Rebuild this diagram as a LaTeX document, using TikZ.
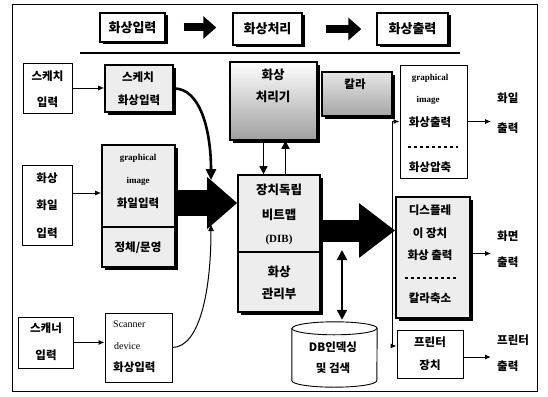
\documentclass[tikz,border=0pt]{standalone}
\usepackage{fontspec}
\setmainfont{Noto Sans CJK KR}
\newfontfamily\lat{Liberation Serif}
\usetikzlibrary{arrows.meta,shapes.geometric,shadows,calc}
\begin{document}
\begin{tikzpicture}[x=1pt,y=-1pt,
  plain/.style={draw, line width=0.9pt, fill=white, inner sep=0pt},
  texbox/.style={draw, line width=1.6pt, fill=gray!14, inner sep=0pt,
    drop shadow={shadow xshift=2.5pt,shadow yshift=-2.5pt,fill=black,opacity=1}},
  hdr/.style={draw, line width=1.4pt, fill=white, inner sep=0pt,
    drop shadow={shadow xshift=2.5pt,shadow yshift=-2.5pt,fill=black,opacity=1},
    font=\bfseries\fontsize{13}{13}\selectfont},
  kt/.style={inner sep=0pt, font=\bfseries\fontsize{11.5}{11.5}\selectfont},
  kb/.style={inner sep=0pt, font=\bfseries\fontsize{12.5}{12.5}\selectfont},
  lt/.style={inner sep=0pt, font=\lat\bfseries\fontsize{9}{9}\selectfont},
  st/.style={inner sep=0pt, anchor=west, font=\lat\fontsize{10}{10}\selectfont},
  lab/.style={inner sep=0pt, anchor=west, align=left},
  thin/.style={line width=1pt, -{Latex[length=6pt,width=5pt]}},
  hdrarrow/.style={line width=8pt, -{Triangle[length=13pt,width=22pt]}},
  div/.style={line width=1.2pt},
  cyl/.style={line width=0.9pt}
]
\useasboundingbox (0,0) rectangle (548,396);
\draw[line width=1pt] (12,5) rectangle (537,391);
\draw[line width=2.5pt] (80,53) -- (460,53);

% header
\node[hdr, minimum width=65pt, minimum height=29pt] (h1) at (132.5,27.5) {화상입력};
\node[hdr, minimum width=69pt, minimum height=32pt] (h2) at (267.5,29) {화상처리};
\node[hdr, minimum width=71pt, minimum height=32pt] (h3) at (412.5,29) {화상출력};
\draw[hdrarrow, shorten <=18pt, shorten >=16pt] (h1.east) -- (h1.east -| h2.west);
\draw[hdrarrow, shorten <=23pt, shorten >=15pt] (h2.east) -- (h3.west);

% left column
\node[plain, minimum width=49pt, minimum height=50pt] (s1) at (47.5,88) {};
\node[kt] (s1a) at (47.5,76) {스케치};
\node[kt] (s1b) at (47.5,102) {입력};
\node[texbox, minimum width=68pt, minimum height=47pt] (s2) at (139,88.5) {};
\node[kt] (s2a) at (138,77) {스케치};
\node[kt] (s2b) at (139,100) {화상입력};

\node[plain, minimum width=50pt, minimum height=80pt] (f1) at (47,205) {};
\node[kt] (f1a) at (47,178) {화상};
\node[kt] (f1b) at (47,205) {화일};
\node[kt] (f1c) at (47,233) {입력};
\node[texbox, minimum width=73pt, minimum height=122pt] (f2) at (138.5,206) {};
\draw[div] (f2.west |- 0,227) -- (f2.east |- 0,227);
\node[lt] (f2a) at (138,158) {graphical};
\node[lt] (f2b) at (138,181) {image};
\node[kt] (f2c) at (138,203) {화일입력};
\node[kt] (f2d) at (138,248) {정체/문영};

\node[plain, minimum width=55pt, minimum height=51pt] (sc1) at (45.5,342.5) {};
\node[kt] (sc1a) at (46,328) {스캐너};
\node[kt] (sc1b) at (46,355) {입력};
\node[plain, minimum width=67pt, minimum height=69pt] (sc2) at (138.5,347.5) {};
\node[st] (sc2a) at (113,324) {Scanner};
\node[st] (sc2b) at (114,346) {device};
\node[kt, anchor=west] (sc2c) at (113,367) {화상입력};

\draw[thin] (s1.east) -- (s1.east -| s2.west);
\draw[thin] ([yshift=12pt]f1.east) -- ([yshift=12pt]f1.east -| f2.west);
\draw[thin] (sc1.east) -- (sc1.east -| sc2.west);

% middle
\node[draw, line width=1.6pt, top color=white, bottom color=gray!75, inner sep=0pt,
  minimum width=87pt, minimum height=78pt,
  drop shadow={shadow xshift=2.5pt,shadow yshift=-2.5pt,fill=black,opacity=1}] (p) at (273.5,101) {};
\node[kb] (pa) at (273,75) {화상};
\node[kb] (pb) at (273,97) {처리기};
\node[draw, line width=1.6pt, top color=gray!20, bottom color=gray!70, inner sep=0pt,
  minimum width=70pt, minimum height=44pt,
  drop shadow={shadow xshift=2.5pt,shadow yshift=-2.5pt,fill=black,opacity=1}] (c) at (357,94) {};
\node[kt] (ca) at (355,84) {칼라};

\node[texbox, minimum width=82pt, minimum height=137pt] (d) at (279,243.5) {};
\draw[div] (d.west |- 0,252) -- (d.east |- 0,252);
\node[kb] (da) at (279,190) {장치독립};
\node[kb] (db1) at (279,215) {비트맵};
\node[inner sep=0pt, font=\lat\bfseries\fontsize{11}{11}\selectfont] (dc) at (279,240) {(DIB)};
\node[kb] (dd) at (279,272) {화상};
\node[kb] (de) at (279,294) {관리부};

\draw[line width=1.5pt, -{Triangle[length=8pt,width=8pt]}] ([xshift=-10pt]p.south) -- ([xshift=-10pt]p.south |- d.north);
\draw[line width=1.5pt, -{Triangle[length=8pt,width=8pt]}] ([xshift=12pt]p.south |- d.north) -- ([xshift=12pt]p.south);

% DB cylinder
\node[inner sep=0pt, minimum width=85pt, minimum height=65pt] (db) at (334.5,354.5) {};
\draw[cyl, fill=white] ([yshift=-6.5pt]db.north west) -- ([yshift=6.5pt]db.south west)
  arc[start angle=180, end angle=360, x radius=42.5pt, y radius=6.5pt]
  -- ([yshift=-6.5pt]db.north east)
  arc[start angle=0, end angle=180, x radius=42.5pt, y radius=6.5pt] -- cycle;
\draw[cyl] ([yshift=-6.5pt]db.north west) arc[start angle=180, end angle=360, x radius=42.5pt, y radius=6.5pt];
\node[kt] (dba) at (333,347) {DB인덱싱};
\node[kt] (dbb) at (333,368) {및 검색};
\coordinate (dbt) at (342,250);
\draw[line width=2.2pt, {Triangle[length=10pt,width=10pt]}-{Triangle[length=10pt,width=10pt]}] (dbt) -- ([yshift=2pt]dbt |- db.north);

% right column
\node[plain, minimum width=67pt, minimum height=113pt] (o1) at (433.5,121.5) {};
\draw[div, dashed] (408,147) -- (458,147);
\node[lt] (o1a) at (430,78) {graphical};
\node[lt] (o1b) at (428,100) {image};
\node[kt] (o1c) at (430,122) {화상출력};
\node[kt] (o1d) at (430,167) {화상압축};

\node[texbox, minimum width=74pt, minimum height=121pt] (o2) at (433,257.5) {};
\draw[div, dashed] (405,278) -- (458,278);
\node[kt] (o2a) at (430,210) {디스플레};
\node[kt] (o2b) at (430,233) {이 장치};
\node[kt] (o2c) at (430,255) {화상 출력};
\node[kt] (o2d) at (430,298) {칼라축소};

\node[plain, minimum width=66pt, minimum height=48pt] (o3) at (430,354) {};
\node[kt] (o3a) at (430,342) {프린터};
\node[kt] (o3b) at (430,365) {장치};

\node[lab, font=\bfseries\fontsize{11.5}{30}\selectfont] (l1) at (497,113) {화일\\출력};
\node[lab, font=\bfseries\fontsize{11.5}{26}\selectfont] (l2) at (497,249) {화면\\출력};
\node[lab, font=\bfseries\fontsize{11.5}{26}\selectfont] (l3) at (497,353) {프린터\\출력};
\draw[thin, shorten >=6pt] (o1.east) -- (o1.east -| l1.west);
\draw[thin, shorten >=6pt] ([yshift=4pt]o2.east) -- ([yshift=4pt]o2.east -| l2.west);
\draw[thin, shorten >=6pt] ([yshift=-3pt]o3.east) -- ([yshift=-3pt]o3.east -| l3.west);

% branch line to file output and printer
\coordinate (br) at (392,232);
\draw[thin] (br) |- (o1.west);
\draw[thin] (br) |- ([yshift=8pt]o3.west);

% fat arrows and curves
\coordinate (m1) at (211,180);
\coordinate (m2) at (211,224);
\draw[line width=26pt, -{Triangle[length=30pt,width=50pt]}] ([yshift=3pt]f2.east) -- ([yshift=3pt]f2.east -| d.west);
\draw[line width=22pt, -{Triangle[length=36pt,width=52pt]}] ([yshift=13pt]d.east) -- ([yshift=13pt]d.east -| o2.west);
\draw[line width=2.6pt, -{Triangle[length=11pt,width=10pt]}] (s2.east) .. controls (200,88) and (211,130) .. (m1);
\draw[line width=1pt, -{Latex[length=7pt,width=6pt]}] (sc2.east) .. controls (200,347) and (211,290) .. (m2);
\end{tikzpicture}
\end{document}
